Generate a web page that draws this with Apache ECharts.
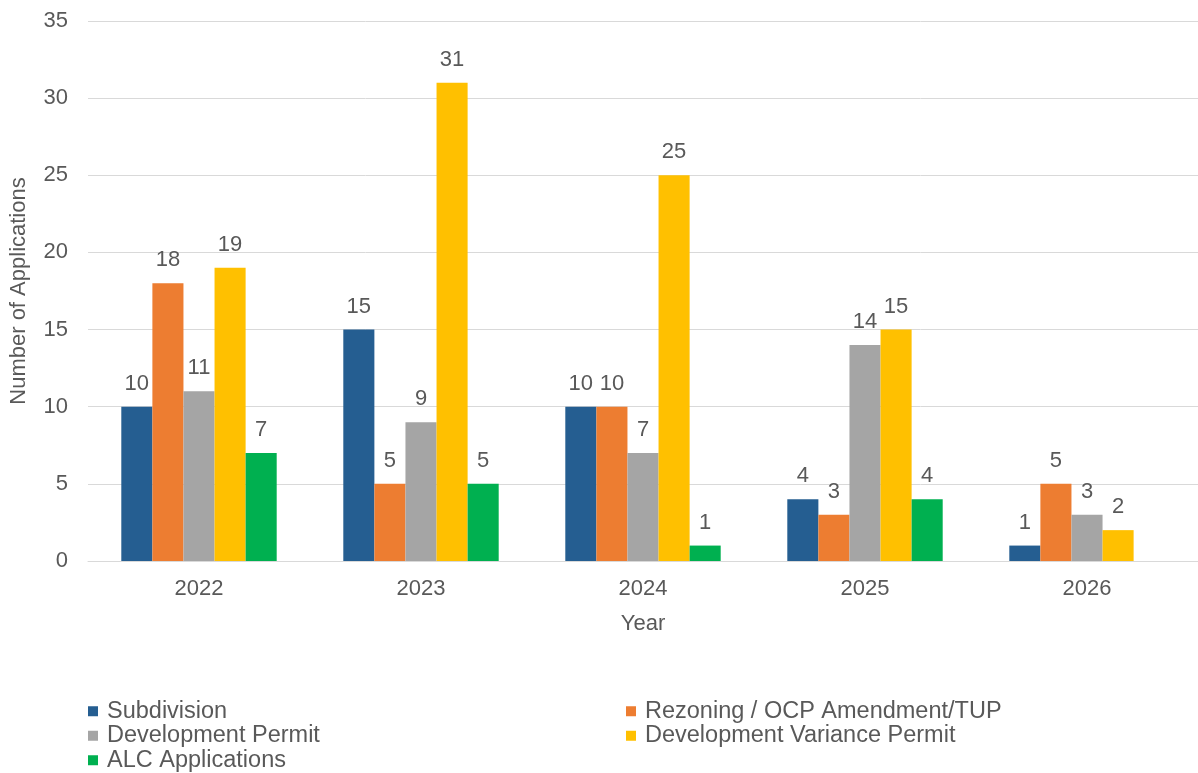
<!DOCTYPE html>
<html>
<head>
<meta charset="utf-8">
<script src="https://cdn.jsdelivr.net/npm/echarts@6/dist/echarts.min.js"></script>
<style>html,body{margin:0;padding:0;background:#fff}#c{width:1198px;height:773px}</style>
</head>
<body>
<div id="c"></div>
<script>
const years = ['2022', '2023', '2024', '2025', '2026'];
const subdivision = [10, 15, 10, 4, 1];
const rezoning = [18, 5, 10, 3, 5];
const developmentPermit = [11, 9, 7, 14, 3];
const variancePermit = [19, 31, 25, 15, 2];
const alc = [7, 5, 1, 4, null];
const yTicks = [0, 5, 10, 15, 20, 25, 30, 35];

const font = 'Arial, "Liberation Sans", sans-serif';
const txt = '#595959';
const names = ['Subdivision', 'Rezoning / OCP Amendment/TUP', 'Development Permit', 'Development Variance Permit', 'ALC Applications'];
const colors = ['#255E91', '#ED7D31', '#A5A5A5', '#FFC000', '#00B050'];
const datas = [subdivision, rezoning, developmentPermit, variancePermit, alc];

const chart = echarts.init(document.getElementById('c'));
function legendOf(left, data) {
  return {
    orient: 'vertical', left: left, top: 699, height: 90, data: data,
    itemWidth: 10, itemHeight: 10, itemGap: 0, padding: 0,
    icon: 'rect',
    textStyle: { fontFamily: font, fontSize: 23.5, lineHeight: 24.5, color: txt, padding: [0, 0, 0, 4] }
  };
}
chart.setOption({
  animation: false,
  textStyle: { fontFamily: font },
  grid: { left: 87, width: 1115, top: 21, bottom: 212 },
  legend: [
    legendOf(88, [names[0], names[2], names[4]]),
    legendOf(626, [names[1], names[3]])
  ],
  xAxis: {
    type: 'category', data: years,
    name: 'Year', nameLocation: 'middle', nameGap: 52,
    nameTextStyle: { fontSize: 22, color: txt, fontFamily: font },
    axisLine: { lineStyle: { color: '#d9d9d9', width: 1 } },
    axisTick: { show: false },
    axisLabel: { fontSize: 22, color: txt, margin: 17, fontFamily: font }
  },
  yAxis: {
    type: 'value', min: yTicks[0], max: yTicks[yTicks.length - 1], interval: 5,
    name: 'Number of Applications', nameLocation: 'middle', nameGap: 58,
    nameTextStyle: { fontSize: 22, color: txt, fontFamily: font },
    axisLine: { show: false }, axisTick: { show: false },
    axisLabel: { fontSize: 22, color: txt, margin: 20, fontFamily: font },
    splitLine: { lineStyle: { color: '#d9d9d9', width: 1 } }
  },
  series: names.map((n, i) => ({
    name: n, type: 'bar', data: datas[i],
    barGap: '0%', barCategoryGap: '30%',
    itemStyle: { color: colors[i] },
    label: { show: true, position: 'top', distance: 12, fontSize: 22, color: txt, fontFamily: font }
  }))
});
</script>
</body>
</html>
